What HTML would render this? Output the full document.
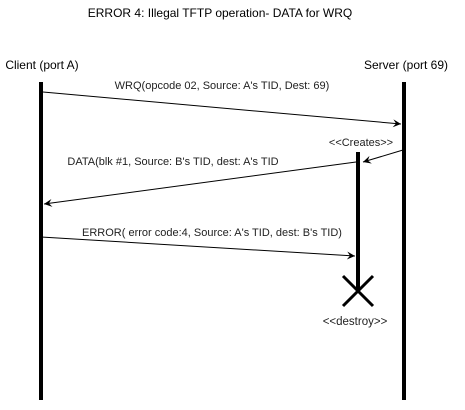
<!DOCTYPE html><html><head><style>body{margin:0;background:#fff}</style></head><body>
<svg width="465" height="405" xmlns="http://www.w3.org/2000/svg" font-family="Liberation Sans, sans-serif" font-size="11" fill="#000">
<defs><marker id="a" markerWidth="10" markerHeight="10" refX="8" refY="4" orient="auto" markerUnits="userSpaceOnUse"><path d="M0,0 L8,4 L0,8 L3,4 Z" fill="#000"/></marker></defs>
<text x="220" y="17" text-anchor="middle" font-size="12">ERROR 4: Illegal TFTP operation- DATA for WRQ</text>
<text x="42" y="69" text-anchor="middle" font-size="12">Client (port A)</text>
<text x="406" y="69" text-anchor="middle" font-size="12">Server (port 69)</text>
<line x1="41" y1="82" x2="41" y2="400" stroke="#000" stroke-width="4"/>
<line x1="404" y1="82" x2="404" y2="400" stroke="#000" stroke-width="4"/>
<line x1="358" y1="152" x2="358" y2="290" stroke="#000" stroke-width="4"/>
<path d="M343,276 L373,306 M373,276 L343,306" stroke="#000" stroke-width="3"/>
<line x1="43" y1="92" x2="401" y2="124" stroke="#000" marker-end="url(#a)"/>
<text x="222" y="89" text-anchor="middle" fill="#222">WRQ(opcode 02, Source: A's TID, Dest: 69)</text>
<text x="361" y="146" text-anchor="middle" font-size="11" fill="#222">&lt;&lt;Creates&gt;&gt;</text>
<line x1="403" y1="150" x2="363" y2="162" stroke="#000" marker-end="url(#a)"/>
<line x1="356" y1="162" x2="44" y2="204" stroke="#000" marker-end="url(#a)"/>
<text x="173" y="165" text-anchor="middle" fill="#222">DATA(blk #1, Source: B's TID, dest: A's TID</text>
<line x1="41" y1="237" x2="355" y2="256" stroke="#000" marker-end="url(#a)"/>
<text x="212" y="236" text-anchor="middle" fill="#222">ERROR( error code:4, Source: A's TID, dest: B's TID)</text>
<text x="355" y="325" text-anchor="middle" font-size="11.5" fill="#222">&lt;&lt;destroy&gt;&gt;</text>
</svg></body></html>
